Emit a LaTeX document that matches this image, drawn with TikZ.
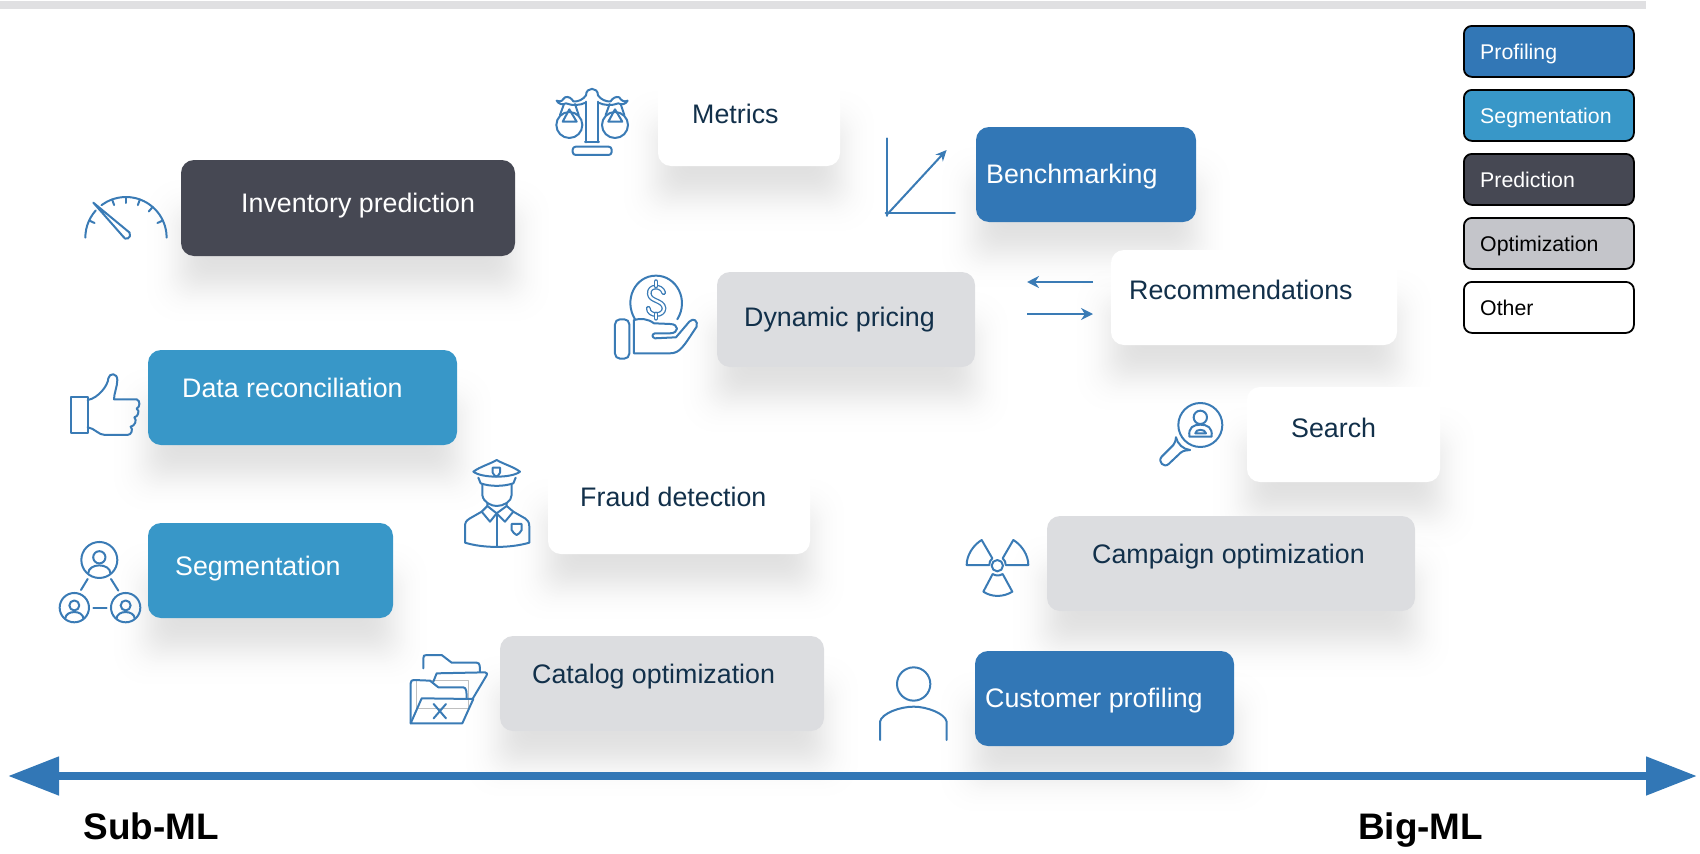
\documentclass[tikz,border=0pt]{standalone}
\usepackage{fontspec}
\setmainfont{Liberation Sans}
\usetikzlibrary{calc}
\usetikzlibrary{arrows.meta}
\definecolor{profilingblue}{HTML}{3277B6}
\definecolor{segmentblue}{HTML}{3897C8}
\definecolor{predictgray}{HTML}{464853}
\definecolor{optimgray}{HTML}{DCDDE0}
\definecolor{legendgray}{HTML}{C4C5CA}
\definecolor{navytext}{HTML}{12304A}
\definecolor{iconblue}{HTML}{3A7BB5}
\definecolor{topbar}{HTML}{E0E0E2}
\tikzset{
  mlbox/.style={anchor=north west, inner sep=0pt, outer sep=0pt, rounded corners=13pt},
  profilingbox/.style={mlbox, fill=profilingblue},
  segmentbox/.style={mlbox, fill=segmentblue},
  predictbox/.style={mlbox, fill=predictgray},
  optimbox/.style={mlbox, fill=optimgray},
  otherbox/.style={mlbox, fill=white},
  lighttext/.style={anchor=base west, inner sep=0pt, text=white, font=\fontsize{26.8}{30}\selectfont},
  darktext/.style={anchor=base west, inner sep=0pt, text=navytext, font=\fontsize{26.8}{30}\selectfont},
  legendbox/.style={anchor=north west, inner sep=0pt, draw=black, line width=1.8pt, rounded corners=8pt, minimum width=170pt, minimum height=51pt},
  legendtext/.style={anchor=base west, inner sep=0pt, font=\fontsize{21.3}{25}\selectfont},
  axislabel/.style={anchor=base west, inner sep=0pt, font=\fontsize{36.9}{40}\selectfont\bfseries},
  iconline/.style={draw=iconblue, line width=2pt, line join=round, line cap=round},
  shadowlayer/.style={fill=black, opacity=0.004},
  swaparrow/.style={draw=iconblue, line width=2pt, -{Stealth[length=12pt,width=12pt]}},
  mlarrow/.style={draw=profilingblue, line width=8pt, {Triangle[length=51pt,width=37pt]}-{Triangle[length=51pt,width=37pt]}}
}
\begin{document}
\begin{tikzpicture}[x=1pt,y=-1pt]
\useasboundingbox (0,0) rectangle (1700,854);

% bar at the top
\fill[topbar] (0,1) rectangle (1646,9);

% shadows under the boxes
\foreach \bx/\by/\bw/\bh in {181/160/334/96, 148/349/309/96, 148/523/245/96, 658/71/182/95,
    976/127/220/95, 717/272/257/95, 1111/250/286/95, 1247/387/193/95, 548/459/262/95,
    1047/516/368/96, 500/636/324/95, 975/652/259/94}{
  \foreach \i in {0,7,11,14,17,19,21,22,24,25.5,27,28,29.5,31,32,33.4,34.6,36,37,38.5,40,41,43,44,46,47,49,51,54,57,61,68}{
    \fill[shadowlayer, rounded corners={6pt+0.4pt*\i}] (\bx+34-\i,\by+88-\i) rectangle (\bx+\bw-34+\i,\by+\bh-3+\i);
  }
}

% inventory prediction
\coordinate (A) at (181,160);
\node[predictbox, minimum width=334pt, minimum height=96pt] (inventory) at (A) {};
\node[lighttext] (inventorytext) at ($(A)+(60,52)$) {Inventory prediction};

% metrics
\coordinate (A) at (658,71);
\node[otherbox, minimum width=182pt, minimum height=95pt] (metrics) at (A) {};
\node[darktext] (metricstext) at ($(A)+(34,52)$) {Metrics};

% benchmarking
\coordinate (A) at (976,127);
\node[profilingbox, minimum width=220pt, minimum height=95pt] (benchmarking) at (A) {};
\node[lighttext] (benchmarkingtext) at ($(A)+(10,56)$) {Benchmarking};

% dynamic pricing
\coordinate (A) at (717,272);
\node[optimbox, minimum width=258pt, minimum height=95pt] (pricing) at (A) {};
\node[darktext] (pricingtext) at ($(A)+(27,54)$) {Dynamic pricing};

% recommendations
\coordinate (A) at (1111,250);
\node[otherbox, minimum width=286pt, minimum height=95pt] (recommendations) at (A) {};
\node[darktext] (recommendationstext) at ($(A)+(18,49)$) {Recommendations};

% data reconciliation
\coordinate (A) at (148,350);
\node[segmentbox, minimum width=309pt, minimum height=95pt] (reconciliation) at (A) {};
\node[lighttext] (reconciliationtext) at ($(A)+(34,47)$) {Data reconciliation};

% search
\coordinate (A) at (1247,387);
\node[otherbox, minimum width=193pt, minimum height=95pt] (search) at (A) {};
\node[darktext] (searchtext) at ($(A)+(44,50)$) {Search};

% fraud detection
\coordinate (A) at (548,459);
\node[otherbox, minimum width=262pt, minimum height=95pt] (fraud) at (A) {};
\node[darktext] (fraudtext) at ($(A)+(32,47)$) {Fraud detection};

% segmentation
\coordinate (A) at (148,523);
\node[segmentbox, minimum width=245pt, minimum height=95pt] (segmentation) at (A) {};
\node[lighttext] (segmentationtext) at ($(A)+(27,52)$) {Segmentation};

% campaign optimization
\coordinate (A) at (1047,516);
\node[optimbox, minimum width=368pt, minimum height=95pt] (campaign) at (A) {};
\node[darktext] (campaigntext) at ($(A)+(45,47)$) {Campaign optimization};

% catalog optimization
\coordinate (A) at (500,636);
\node[optimbox, minimum width=324pt, minimum height=95pt] (catalog) at (A) {};
\node[darktext] (catalogtext) at ($(A)+(32,47)$) {Catalog optimization};

% customer profiling
\coordinate (A) at (975,651);
\node[profilingbox, minimum width=259pt, minimum height=95pt] (customer) at (A) {};
\node[lighttext] (customertext) at ($(A)+(10,56)$) {Customer profiling};

% legend
\coordinate (L) at (1463,25);
\node[legendbox, fill=profilingblue] (legendprofiling) at (L) {};
\node[legendtext, text=white] (legendprofilingtext) at ($(L)+(17,34)$) {Profiling};
\coordinate (L) at (1463,89);
\node[legendbox, fill=segmentblue] (legendsegment) at (L) {};
\node[legendtext, text=white] (legendsegmenttext) at ($(L)+(17,34)$) {Segmentation};
\coordinate (L) at (1463,153);
\node[legendbox, fill=predictgray] (legendpredict) at (L) {};
\node[legendtext, text=white] (legendpredicttext) at ($(L)+(17,34)$) {Prediction};
\coordinate (L) at (1463,217);
\node[legendbox, fill=legendgray] (legendoptim) at (L) {};
\node[legendtext] (legendoptimtext) at ($(L)+(17,34)$) {Optimization};
\coordinate (L) at (1463,281);
\node[legendbox, fill=white] (legendother) at (L) {};
\node[legendtext] (legendothertext) at ($(L)+(17,34)$) {Other};

% arrows between pricing and recommendations
\coordinate (swapa) at (1093,282);
\coordinate (swapb) at (1027,282);
\coordinate (swapc) at (1027,314);
\coordinate (swapd) at (1093,314);
\draw[swaparrow] (swapa) -- (swapb);
\draw[swaparrow] (swapc) -- (swapd);

% main axis
\coordinate (subend) at (8,776);
\coordinate (bigend) at (1697,776);
\draw[mlarrow] (subend) -- (bigend);
\node[axislabel] (subml) at (83.5,839) {Sub-ML};
\node[axislabel] (bigml) at (1358,839) {Big-ML};

% gauge
\begin{scope}[shift={(60,170)},scale=0.3333,iconline]
  \draw plot[smooth,domain=180:222,samples=8] ({198+122*cos(\x)},{203+122*sin(\x)});
  \draw plot[smooth,domain=233:360,samples=16] ({198+122*cos(\x)},{203+122*sin(\x)});
  \foreach \a in {205,250,270,290,311,335}{
    \draw ({198+122*cos(\a)},{203+122*sin(\a)}) -- ({198+104*cos(\a)},{203+104*sin(\a)});
  }
  \draw (100,98) -- (209,188) .. controls (216,205) and (195,214) .. (188,198) -- cycle;
\end{scope}

% thumb
\begin{scope}[shift={(40,330)},scale=0.3333,iconline]
  \draw (92,200) rectangle (143,308);
  \draw (143,210) .. controls (175,205) and (205,165) .. (205,145) .. controls (208,128) and (232,128) .. (232,150)
    .. controls (232,170) and (222,190) .. (222,208) -- (290,208) .. controls (302,212) and (300,232) .. (290,236)
    .. controls (300,242) and (295,260) .. (283,262) .. controls (292,270) and (285,288) .. (272,290)
    .. controls (280,298) and (275,315) .. (262,315) -- (195,315) .. controls (175,315) and (165,295) .. (143,292);
\end{scope}

% network of people
\begin{scope}[shift={(40,330)},scale=0.3333,iconline]
  \foreach \cx/\cy/\r in {178/690/54, 103/833/44, 257/833/44}{
    \draw (\cx,\cy) circle[radius=\r];
    \draw (\cx,{\cy-0.15*\r}) circle[radius={0.34*\r}];
    \draw ({\cx-0.62*\r},{\cy+0.75*\r}) .. controls ({\cx-0.6*\r},{\cy+0.15*\r}) and ({\cx+0.6*\r},{\cy+0.15*\r}) .. ({\cx+0.62*\r},{\cy+0.75*\r});
  }
  \draw (143,747) -- (123,780);
  \draw (213,747) -- (235,782);
  \draw (160,833) -- (200,833);
\end{scope}

% scales
\begin{scope}[shift={(520,70)},scale=0.3333,iconline]
  \draw[rounded corners=3pt] (158,230) rectangle (275,255);
  \draw (197,217) -- (197,95) (235,95) -- (235,217) (195,217) -- (237,217);
  \draw (110,92) .. controls (122,98) and (130,90) .. (135,82) .. controls (145,78) and (155,85) .. (160,94)
    .. controls (175,96) and (190,88) .. (198,76) .. controls (198,50) and (234,50) .. (234,76)
    .. controls (242,88) and (258,96) .. (272,94) .. controls (277,85) and (288,78) .. (298,82)
    .. controls (302,90) and (312,98) .. (323,92) .. controls (318,102) and (305,106) .. (295,100)
    .. controls (275,108) and (252,106) .. (235,98) (197,98) .. controls (180,106) and (158,108) .. (138,100)
    .. controls (128,106) and (115,102) .. (110,92);
  \foreach \dx in {0,137}{
    \begin{scope}[xshift=\dx]
      \draw (148,165) circle[radius=39];
      \draw (148,118) -- (128,155) -- (170,155) -- cycle;
      \draw (132,102) -- (120,135) (165,102) -- (176,135);
    \end{scope}
  }
\end{scope}

% chart
\begin{scope}[shift={(520,70)},scale=0.3333,iconline]
  \draw (1100,205) -- (1100,438);
  \draw (1097,430) -- (1305,430);
  \draw[-{Stealth[length=11pt,width=10pt]}] (1100,435) -- (1280,240);
\end{scope}

% hand with coin
\begin{scope}[shift={(520,70)},scale=0.3333,iconline]
  \draw (345,748) .. controls (310,690) and (345,617) .. (408,617) .. controls (470,617) and (508,690) .. (472,748);
  \draw[rounded corners=5pt] (285,748) rectangle (328,866);
  \draw (342,750) -- (342,850) -- (450,850) .. controls (480,850) and (490,830) .. (530,770)
    .. controls (535,752) and (520,742) .. (508,755) -- (468,802) -- (405,805)
    .. controls (395,802) and (395,792) .. (405,790) -- (450,790)
    .. controls (478,790) and (478,762) .. (450,762) -- (402,760) .. controls (382,745) and (360,745) .. (342,750);
  \draw[line width=1.3pt, double=white, double distance=2.2pt] (431,668) .. controls (425,645) and (385,645) .. (388,672)
    .. controls (390,695) and (430,690) .. (432,715) .. controls (432,740) and (385,740) .. (385,715);
  \draw[line width=1.3pt, double=white, double distance=2.2pt] (408,635) -- (408,648) (408,732) -- (408,745);
\end{scope}

% magnifier
\begin{scope}[shift={(1140,390)},scale=0.3333,iconline]
  \draw (181,105) circle[radius=66];
  \draw (181,82) circle[radius=20];
  \draw (148,140) .. controls (145,112) and (160,104) .. (181,104) .. controls (202,104) and (218,112) .. (215,140) -- cycle;
  \draw (166,130) .. controls (166,116) and (196,116) .. (198,130) -- cycle;
  \draw (108,142) .. controls (112,162) and (130,178) .. (150,180);
  \draw (100,165) -- (65,200) .. controls (52,215) and (72,235) .. (86,222) -- (122,188);
  \draw (100,165) .. controls (108,158) and (105,150) .. (108,142);
  \draw (122,188) .. controls (132,180) and (140,182) .. (150,180);
\end{scope}

% radiation sign
\begin{scope}[shift={(940,520)},scale=0.3333,iconline]
  \draw (172,137) circle[radius=17];
  \draw (125,60) -- (157,115) .. controls (150,120) and (148,128) .. (148,135) -- (80,135) .. controls (80,105) and (100,75) .. (125,60) -- cycle;
  \draw (220,60) -- (188,115) .. controls (195,120) and (197,128) .. (197,135) -- (265,135) .. controls (265,105) and (245,75) .. (220,60) -- cycle;
  \draw (158,162) .. controls (168,168) and (178,168) .. (188,162) -- (217,215) .. controls (190,232) and (155,232) .. (130,215) -- cycle;
\end{scope}

% folders
\begin{scope}[shift={(400,640)},scale=0.3333,iconline]
  \draw[draw=gray!50, line width=0.7pt] (48,122) rectangle (205,205);
  \draw (70,85) -- (70,55) .. controls (70,47) and (72,45) .. (80,45) -- (125,45) -- (155,68) -- (230,68) .. controls (240,68) and (240,80) .. (240,95);
  \draw (100,125) -- (110,100) -- (255,97) .. controls (262,97) and (262,103) .. (260,106) -- (217,178);
  \draw (32,250) -- (32,130) .. controls (32,122) and (36,120) .. (42,120) -- (90,122) -- (115,142) -- (190,142) .. controls (200,142) and (200,160) .. (200,175);
  \draw (32,250) -- (65,175) -- (220,177) -- (187,250) -- cycle;
  \draw (101,192) -- (138,235) (138,192) -- (101,235);
\end{scope}

% policeman
\begin{scope}[shift={(450,450)},scale=0.3333,iconline]
  \draw (70,65) .. controls (90,50) and (120,42) .. (140,30) .. controls (160,42) and (190,50) .. (210,65) .. controls (185,85) and (95,85) .. (70,65) -- cycle;
  \draw (85,83) -- (92,100) .. controls (120,110) and (160,110) .. (190,100) -- (197,83);
  \draw (128,53) -- (150,53) -- (150,68) .. controls (148,75) and (142,78) .. (139,80) .. controls (136,78) and (130,75) .. (128,68) -- cycle;
  \draw (97,102) -- (97,135) .. controls (100,158) and (125,168) .. (140,168) .. controls (160,168) and (185,155) .. (185,135) -- (185,102);
  \draw (112,160) -- (112,168) -- (95,185) -- (120,215) -- (140,190) -- (165,215) -- (190,185) -- (170,168) -- (170,160);
  \draw (112,168) -- (140,190) -- (170,168);
  \draw (95,185) -- (60,205) .. controls (48,212) and (45,218) .. (45,230) -- (45,278) .. controls (100,295) and (180,295) .. (238,278) -- (238,230) .. controls (238,215) and (232,210) .. (225,205) -- (190,185);
  \draw (140,190) -- (140,288);
  \draw (185,222) -- (215,222) -- (215,240) .. controls (212,248) and (205,252) .. (200,255) .. controls (195,252) and (188,248) .. (185,240) -- cycle;
\end{scope}

% customer
\begin{scope}[shift={(870,660)},scale=0.3333,iconline]
  \draw (131,72) circle[radius=50];
  \draw (30,240) -- (30,185) .. controls (35,160) and (90,140) .. (131,140) .. controls (170,140) and (225,160) .. (230,185) -- (230,240);
\end{scope}

\end{tikzpicture}
\end{document}
